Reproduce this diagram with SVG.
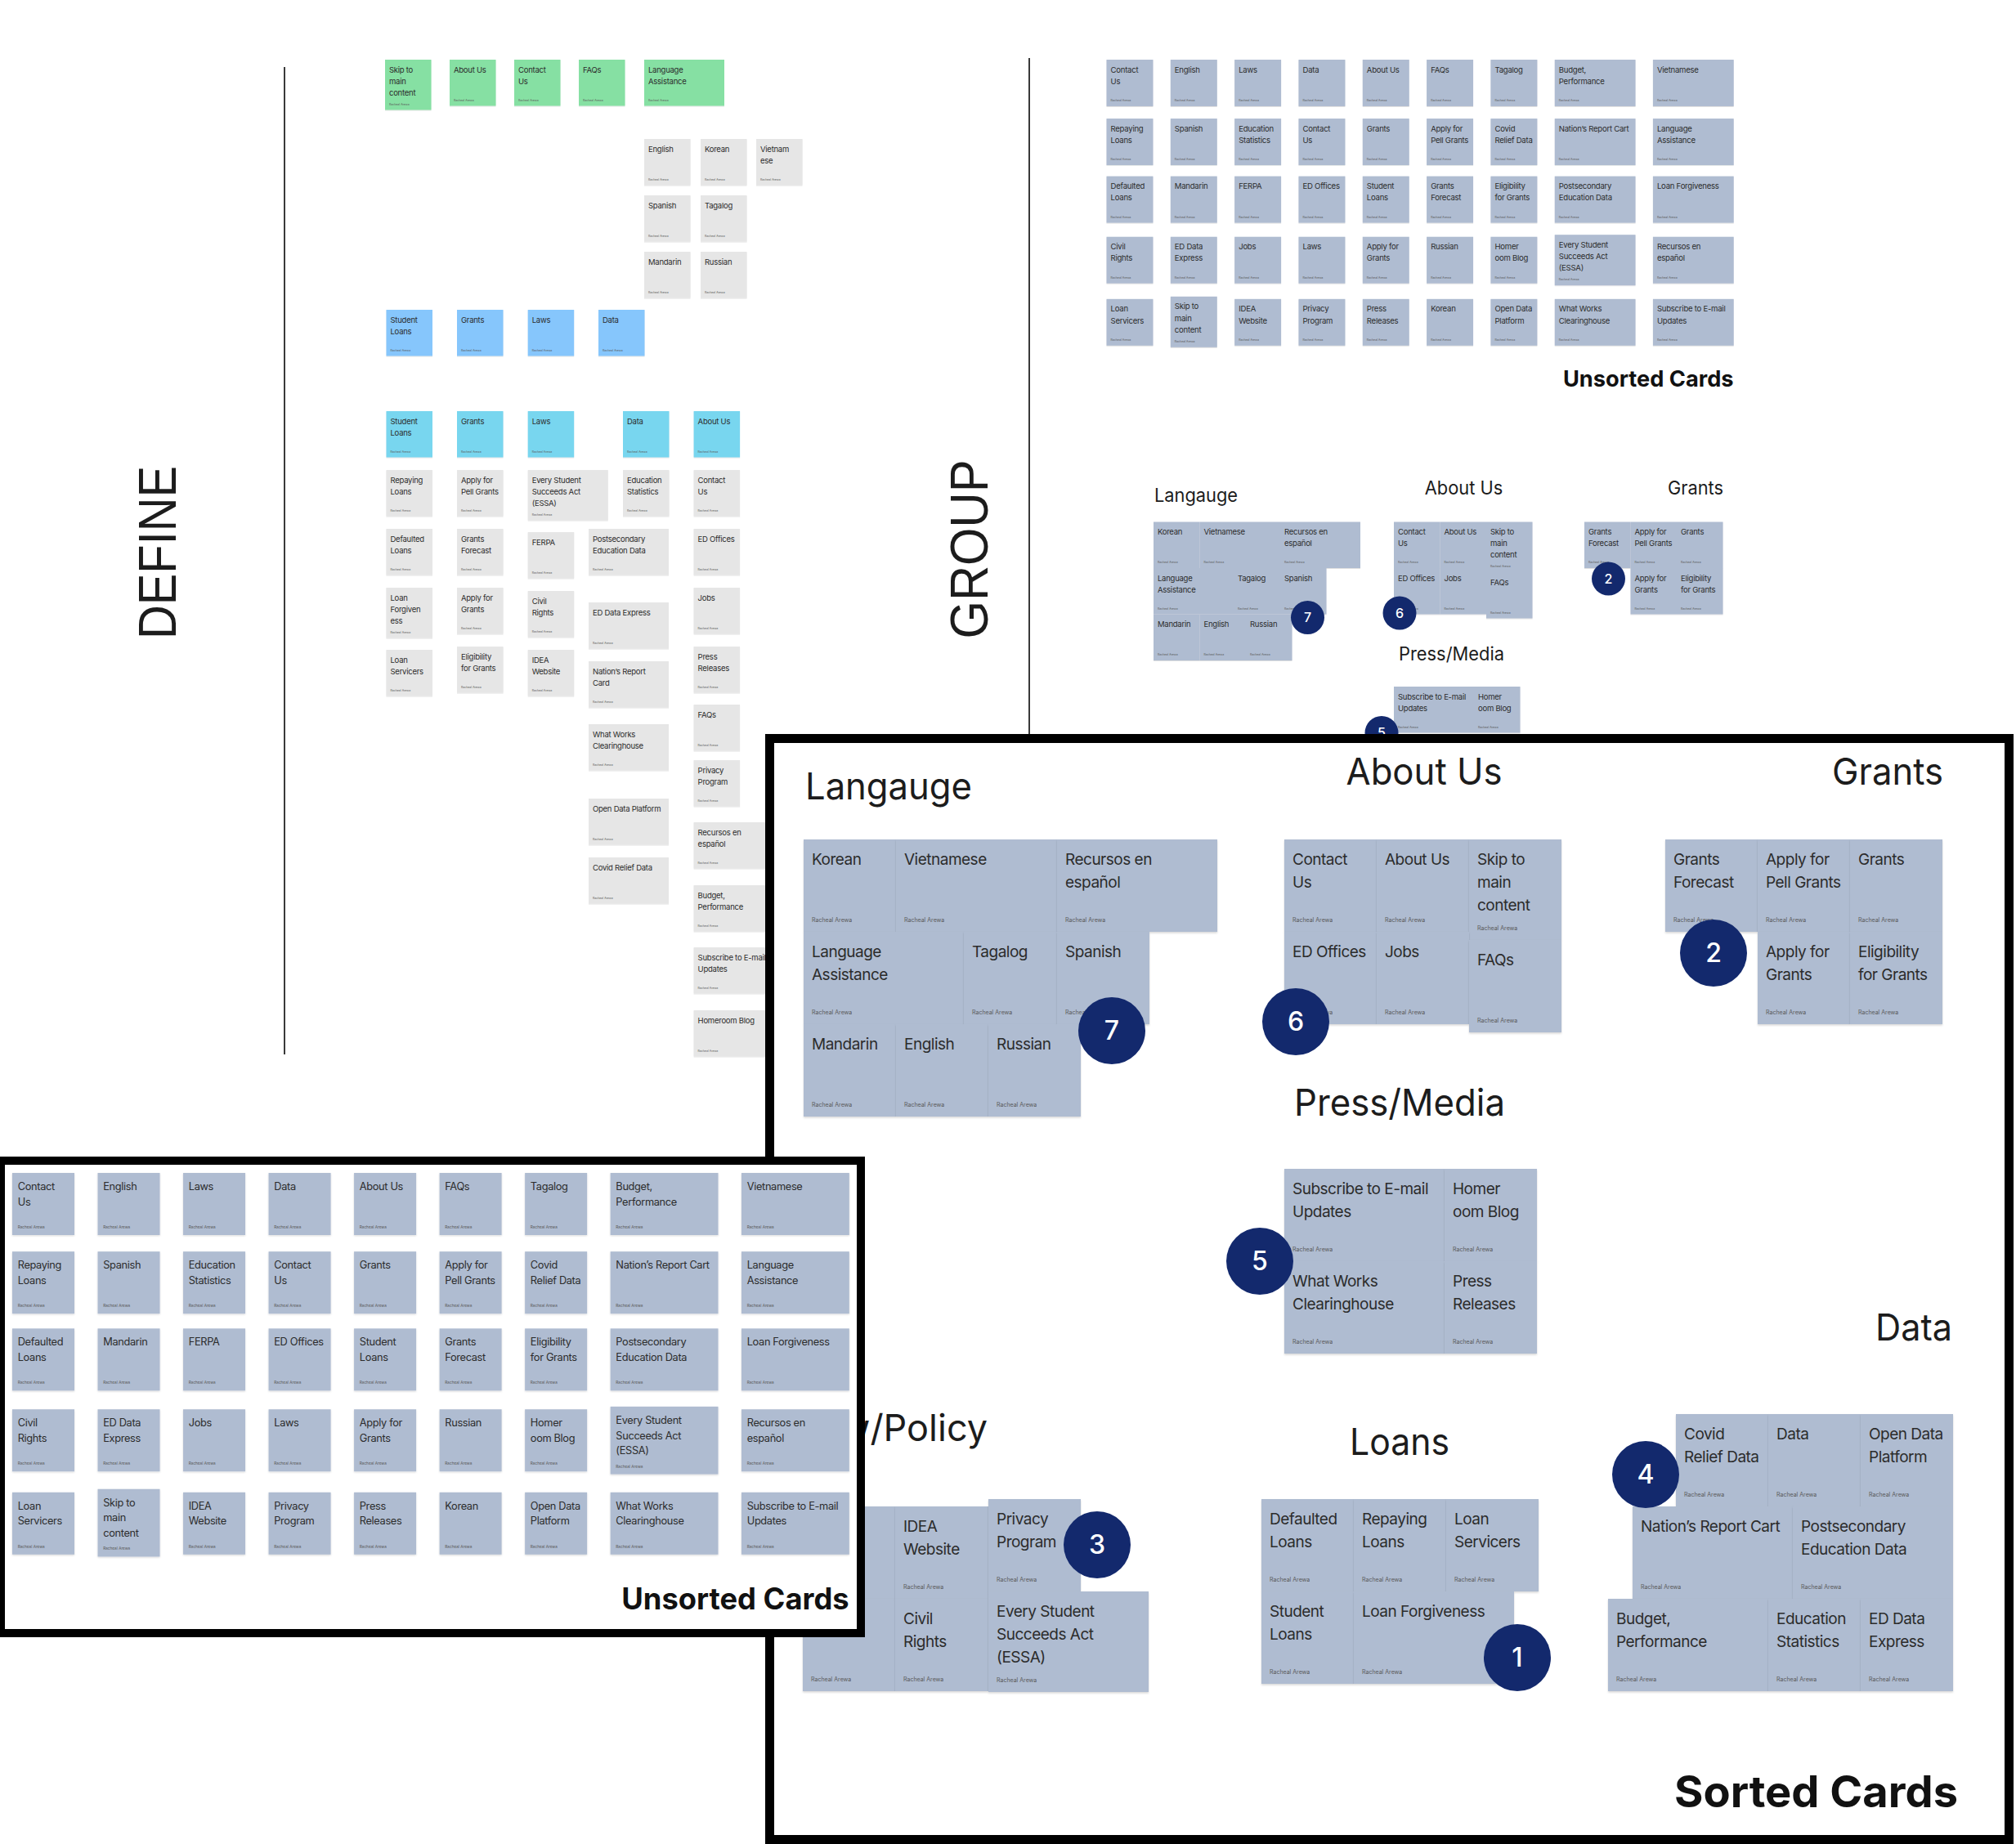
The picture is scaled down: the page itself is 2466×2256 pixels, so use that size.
<svg xmlns="http://www.w3.org/2000/svg" width="2466" height="2256" viewBox="0 0 2466 2256">
<defs>
<filter id="sh" x="-5%" y="-5%" width="110%" height="115%"><feDropShadow dx="0" dy="1.5" stdDeviation="1.2" flood-color="#000" flood-opacity="0.16"/></filter>
<style>
text{font-family:Inter,"Liberation Sans",Arial,sans-serif}
.cd rect{filter:url(#sh)}
.cd text{font-size:19px;letter-spacing:-0.5px;fill:#2c2c2c}
.cd text.au{font-size:7px;letter-spacing:0;fill:#5a5a5a}
.k rect{fill:#afbcd1}
.g rect{fill:#e6e6e6}
.gr rect{fill:#86e0a3}
.bl rect{fill:#86c6fc}
.cy rect{fill:#78d6ef}
.tt{font-size:45px;fill:#1c1c1c}
.big{font-size:54px;font-weight:700;fill:#111}
.vt{font-family:"Liberation Sans",Arial,sans-serif;font-size:64px;fill:#1c1c1c}
.bd circle{fill:#13296d}
.bd text{font-size:32px;font-weight:500;fill:#fff;text-anchor:middle}
.div{stroke:#3a3a3a;stroke-width:2}
.frame{fill:#fff;stroke:#000;stroke-width:11}
</style>
</defs>
<rect width="2466" height="2256" fill="#fff"/>

<!-- section dividers -->
<g id="connectors">
<line class="div" x1="348" y1="82" x2="348" y2="1290"/>
<line class="div" x1="1259" y1="71" x2="1259" y2="900"/>
</g>

<!-- DEFINE column -->
<g id="define-label"><text class="vt" transform="translate(215,676) rotate(-90)" text-anchor="middle" textLength="212" lengthAdjust="spacingAndGlyphs">DEFINE</text></g>
<g id="define">
<g id="d-skip" class="cd gr" transform="translate(471,73) scale(.5)"><rect width="113" height="123"/><text x="10" y="31">Skip to<tspan x="10" dy="28">main</tspan><tspan x="10" dy="28">content</tspan></text><text class="au" x="10" y="111">Racheal Arewa</text></g>
<g id="d-about" class="cd gr" transform="translate(550,73) scale(.5)"><rect width="113" height="113"/><text x="10" y="31">About Us</text><text class="au" x="10" y="101">Racheal Arewa</text></g>
<g id="d-contact" class="cd gr" transform="translate(629,73) scale(.5)"><rect width="113" height="113"/><text x="10" y="31">Contact<tspan x="10" dy="28">Us</tspan></text><text class="au" x="10" y="101">Racheal Arewa</text></g>
<g id="d-faqs" class="cd gr" transform="translate(708,73) scale(.5)"><rect width="113" height="113"/><text x="10" y="31">FAQs</text><text class="au" x="10" y="101">Racheal Arewa</text></g>
<g id="d-langassist" class="cd gr" transform="translate(788,73) scale(.5)"><rect width="196" height="113"/><text x="10" y="31">Language<tspan x="10" dy="28">Assistance</tspan></text><text class="au" x="10" y="101">Racheal Arewa</text></g>
<g id="d-english" class="cd g" transform="translate(788,170) scale(.5)"><rect width="113" height="113"/><text x="10" y="31">English</text><text class="au" x="10" y="101">Racheal Arewa</text></g>
<g id="d-korean" class="cd g" transform="translate(857,170) scale(.5)"><rect width="113" height="113"/><text x="10" y="31">Korean</text><text class="au" x="10" y="101">Racheal Arewa</text></g>
<g id="d-vietnamese" class="cd g" transform="translate(925,170) scale(.5)"><rect width="113" height="113"/><text x="10" y="31">Vietnam<tspan x="10" dy="28">ese</tspan></text><text class="au" x="10" y="101">Racheal Arewa</text></g>
<g id="d-spanish" class="cd g" transform="translate(788,239) scale(.5)"><rect width="113" height="113"/><text x="10" y="31">Spanish</text><text class="au" x="10" y="101">Racheal Arewa</text></g>
<g id="d-tagalog" class="cd g" transform="translate(857,239) scale(.5)"><rect width="113" height="113"/><text x="10" y="31">Tagalog</text><text class="au" x="10" y="101">Racheal Arewa</text></g>
<g id="d-mandarin" class="cd g" transform="translate(788,308) scale(.5)"><rect width="113" height="113"/><text x="10" y="31">Mandarin</text><text class="au" x="10" y="101">Racheal Arewa</text></g>
<g id="d-russian" class="cd g" transform="translate(857,308) scale(.5)"><rect width="113" height="113"/><text x="10" y="31">Russian</text><text class="au" x="10" y="101">Racheal Arewa</text></g>

<g id="d-bl-loans" class="cd bl" transform="translate(472.5,379) scale(.5)"><rect width="113" height="113"/><text x="10" y="31">Student<tspan x="10" dy="28">Loans</tspan></text><text class="au" x="10" y="101">Racheal Arewa</text></g>
<g id="d-bl-grants" class="cd bl" transform="translate(559,379) scale(.5)"><rect width="113" height="113"/><text x="10" y="31">Grants</text><text class="au" x="10" y="101">Racheal Arewa</text></g>
<g id="d-bl-laws" class="cd bl" transform="translate(645.7,379) scale(.5)"><rect width="113" height="113"/><text x="10" y="31">Laws</text><text class="au" x="10" y="101">Racheal Arewa</text></g>
<g id="d-bl-data" class="cd bl" transform="translate(732,379) scale(.5)"><rect width="113" height="113"/><text x="10" y="31">Data</text><text class="au" x="10" y="101">Racheal Arewa</text></g>

<g id="d-cy-loans" class="cd cy" transform="translate(472.5,503) scale(.5)"><rect width="113" height="113"/><text x="10" y="31">Student<tspan x="10" dy="28">Loans</tspan></text><text class="au" x="10" y="101">Racheal Arewa</text></g>
<g id="d-cy-grants" class="cd cy" transform="translate(559,503) scale(.5)"><rect width="113" height="113"/><text x="10" y="31">Grants</text><text class="au" x="10" y="101">Racheal Arewa</text></g>
<g id="d-cy-laws" class="cd cy" transform="translate(645.7,503) scale(.5)"><rect width="113" height="113"/><text x="10" y="31">Laws</text><text class="au" x="10" y="101">Racheal Arewa</text></g>
<g id="d-cy-data" class="cd cy" transform="translate(762,503) scale(.5)"><rect width="113" height="113"/><text x="10" y="31">Data</text><text class="au" x="10" y="101">Racheal Arewa</text></g>
<g id="d-cy-about" class="cd cy" transform="translate(848.6,503) scale(.5)"><rect width="113" height="113"/><text x="10" y="31">About Us</text><text class="au" x="10" y="101">Racheal Arewa</text></g>

<g id="d-repaying" class="cd g" transform="translate(472.5,575) scale(.5)"><rect width="113" height="113"/><text x="10" y="31">Repaying<tspan x="10" dy="28">Loans</tspan></text><text class="au" x="10" y="101">Racheal Arewa</text></g>
<g id="d-defaulted" class="cd g" transform="translate(472.5,647) scale(.5)"><rect width="113" height="113"/><text x="10" y="31">Defaulted<tspan x="10" dy="28">Loans</tspan></text><text class="au" x="10" y="101">Racheal Arewa</text></g>
<g id="d-forgiveness" class="cd g" transform="translate(472.5,719) scale(.5)"><rect width="113" height="123"/><text x="10" y="31">Loan<tspan x="10" dy="28">Forgiven</tspan><tspan x="10" dy="28">ess</tspan></text><text class="au" x="10" y="111">Racheal Arewa</text></g>
<g id="d-servicers" class="cd g" transform="translate(472.5,795) scale(.5)"><rect width="113" height="113"/><text x="10" y="31">Loan<tspan x="10" dy="28">Servicers</tspan></text><text class="au" x="10" y="101">Racheal Arewa</text></g>
<g id="d-pell" class="cd g" transform="translate(559,575) scale(.5)"><rect width="113" height="113"/><text x="10" y="31">Apply for<tspan x="10" dy="28">Pell Grants</tspan></text><text class="au" x="10" y="101">Racheal Arewa</text></g>
<g id="d-forecast" class="cd g" transform="translate(559,647) scale(.5)"><rect width="113" height="113"/><text x="10" y="31">Grants<tspan x="10" dy="28">Forecast</tspan></text><text class="au" x="10" y="101">Racheal Arewa</text></g>
<g id="d-applygrants" class="cd g" transform="translate(559,719) scale(.5)"><rect width="113" height="113"/><text x="10" y="31">Apply for<tspan x="10" dy="28">Grants</tspan></text><text class="au" x="10" y="101">Racheal Arewa</text></g>
<g id="d-eligibility" class="cd g" transform="translate(559,791) scale(.5)"><rect width="113" height="113"/><text x="10" y="31">Eligibility<tspan x="10" dy="28">for Grants</tspan></text><text class="au" x="10" y="101">Racheal Arewa</text></g>
<g id="d-essa" class="cd g" transform="translate(645.7,575) scale(.5)"><rect width="196" height="123"/><text x="10" y="31">Every Student<tspan x="10" dy="28">Succeeds Act</tspan><tspan x="10" dy="28">(ESSA)</tspan></text><text class="au" x="10" y="111">Racheal Arewa</text></g>
<g id="d-ferpa" class="cd g" transform="translate(645.7,651) scale(.5)"><rect width="113" height="113"/><text x="10" y="31">FERPA</text><text class="au" x="10" y="101">Racheal Arewa</text></g>
<g id="d-civil" class="cd g" transform="translate(645.7,723) scale(.5)"><rect width="113" height="113"/><text x="10" y="31">Civil<tspan x="10" dy="28">Rights</tspan></text><text class="au" x="10" y="101">Racheal Arewa</text></g>
<g id="d-idea" class="cd g" transform="translate(645.7,795) scale(.5)"><rect width="113" height="113"/><text x="10" y="31">IDEA<tspan x="10" dy="28">Website</tspan></text><text class="au" x="10" y="101">Racheal Arewa</text></g>
<g id="d-edstats" class="cd g" transform="translate(762,575) scale(.5)"><rect width="113" height="113"/><text x="10" y="31">Education<tspan x="10" dy="28">Statistics</tspan></text><text class="au" x="10" y="101">Racheal Arewa</text></g>
<g id="d-postsec" class="cd g" transform="translate(720,647) scale(.5)"><rect width="196" height="113"/><text x="10" y="31">Postsecondary<tspan x="10" dy="28">Education Data</tspan></text><text class="au" x="10" y="101">Racheal Arewa</text></g>
<g id="d-eddata" class="cd g" transform="translate(720,737) scale(.5)"><rect width="196" height="113"/><text x="10" y="31">ED Data Express</text><text class="au" x="10" y="101">Racheal Arewa</text></g>
<g id="d-nations" class="cd g" transform="translate(720,809) scale(.5)"><rect width="196" height="113"/><text x="10" y="31">Nation’s Report<tspan x="10" dy="28">Card</tspan></text><text class="au" x="10" y="101">Racheal Arewa</text></g>
<g id="d-whatworks" class="cd g" transform="translate(720,886) scale(.5)"><rect width="196" height="113"/><text x="10" y="31">What Works<tspan x="10" dy="28">Clearinghouse</tspan></text><text class="au" x="10" y="101">Racheal Arewa</text></g>
<g id="d-opendata" class="cd g" transform="translate(720,977) scale(.5)"><rect width="196" height="113"/><text x="10" y="31">Open Data Platform</text><text class="au" x="10" y="101">Racheal Arewa</text></g>
<g id="d-covid" class="cd g" transform="translate(720,1049) scale(.5)"><rect width="196" height="113"/><text x="10" y="31">Covid Relief Data</text><text class="au" x="10" y="101">Racheal Arewa</text></g>
<g id="d-contact2" class="cd g" transform="translate(848.6,575) scale(.5)"><rect width="113" height="113"/><text x="10" y="31">Contact<tspan x="10" dy="28">Us</tspan></text><text class="au" x="10" y="101">Racheal Arewa</text></g>
<g id="d-edoffices" class="cd g" transform="translate(848.6,647) scale(.5)"><rect width="113" height="113"/><text x="10" y="31">ED Offices</text><text class="au" x="10" y="101">Racheal Arewa</text></g>
<g id="d-jobs" class="cd g" transform="translate(848.6,719) scale(.5)"><rect width="113" height="113"/><text x="10" y="31">Jobs</text><text class="au" x="10" y="101">Racheal Arewa</text></g>
<g id="d-press" class="cd g" transform="translate(848.6,791) scale(.5)"><rect width="113" height="113"/><text x="10" y="31">Press<tspan x="10" dy="28">Releases</tspan></text><text class="au" x="10" y="101">Racheal Arewa</text></g>
<g id="d-faqs2" class="cd g" transform="translate(848.6,862) scale(.5)"><rect width="113" height="113"/><text x="10" y="31">FAQs</text><text class="au" x="10" y="101">Racheal Arewa</text></g>
<g id="d-privacy" class="cd g" transform="translate(848.6,930) scale(.5)"><rect width="113" height="113"/><text x="10" y="31">Privacy<tspan x="10" dy="28">Program</tspan></text><text class="au" x="10" y="101">Racheal Arewa</text></g>
<g id="d-recursos" class="cd g" transform="translate(848.6,1006) scale(.5)"><rect width="196" height="113"/><text x="10" y="31">Recursos en<tspan x="10" dy="28">español</tspan></text><text class="au" x="10" y="101">Racheal Arewa</text></g>
<g id="d-budget" class="cd g" transform="translate(848.6,1083) scale(.5)"><rect width="196" height="113"/><text x="10" y="31">Budget,<tspan x="10" dy="28">Performance</tspan></text><text class="au" x="10" y="101">Racheal Arewa</text></g>
<g id="d-subscribe" class="cd g" transform="translate(848.6,1159) scale(.5)"><rect width="196" height="113"/><text x="10" y="31">Subscribe to E-mail<tspan x="10" dy="28">Updates</tspan></text><text class="au" x="10" y="101">Racheal Arewa</text></g>
<g id="d-homeroom" class="cd g" transform="translate(848.6,1236) scale(.5)"><rect width="196" height="113"/><text x="10" y="31">Homeroom Blog</text><text class="au" x="10" y="101">Racheal Arewa</text></g>
</g>

<!-- GROUP column -->
<g id="group-label"><text class="vt" transform="translate(1208,672) rotate(-90)" text-anchor="middle" textLength="219" lengthAdjust="spacingAndGlyphs">GROUP</text></g>

<g id="group-unsorted" transform="translate(1353.5,73) scale(.504)">
<g id="ut-contact" class="cd k" transform="translate(0,0)"><rect width="113" height="113"/><text x="10" y="31">Contact<tspan x="10" dy="28">Us</tspan></text><text class="au" x="10" y="101">Racheal Arewa</text></g>
<g id="ut-english" class="cd k" transform="translate(155.4,0)"><rect width="113" height="113"/><text x="10" y="31">English</text><text class="au" x="10" y="101">Racheal Arewa</text></g>
<g id="ut-laws" class="cd k" transform="translate(310.8,0)"><rect width="113" height="113"/><text x="10" y="31">Laws</text><text class="au" x="10" y="101">Racheal Arewa</text></g>
<g id="ut-data" class="cd k" transform="translate(466.2,0)"><rect width="113" height="113"/><text x="10" y="31">Data</text><text class="au" x="10" y="101">Racheal Arewa</text></g>
<g id="ut-about" class="cd k" transform="translate(621.6,0)"><rect width="113" height="113"/><text x="10" y="31">About Us</text><text class="au" x="10" y="101">Racheal Arewa</text></g>
<g id="ut-faqs" class="cd k" transform="translate(777,0)"><rect width="113" height="113"/><text x="10" y="31">FAQs</text><text class="au" x="10" y="101">Racheal Arewa</text></g>
<g id="ut-tagalog" class="cd k" transform="translate(932.4,0)"><rect width="113" height="113"/><text x="10" y="31">Tagalog</text><text class="au" x="10" y="101">Racheal Arewa</text></g>
<g id="ut-budget" class="cd k" transform="translate(1087.8,0)"><rect width="196" height="113"/><text x="10" y="31">Budget,<tspan x="10" dy="28">Performance</tspan></text><text class="au" x="10" y="101">Racheal Arewa</text></g>
<g id="ut-vietnamese" class="cd k" transform="translate(1326.2,0)"><rect width="196" height="113"/><text x="10" y="31">Vietnamese</text><text class="au" x="10" y="101">Racheal Arewa</text></g>

<g id="ut-repaying" class="cd k" transform="translate(0,143)"><rect width="113" height="113"/><text x="10" y="31">Repaying<tspan x="10" dy="28">Loans</tspan></text><text class="au" x="10" y="101">Racheal Arewa</text></g>
<g id="ut-spanish" class="cd k" transform="translate(155.4,143)"><rect width="113" height="113"/><text x="10" y="31">Spanish</text><text class="au" x="10" y="101">Racheal Arewa</text></g>
<g id="ut-edstats" class="cd k" transform="translate(310.8,143)"><rect width="113" height="113"/><text x="10" y="31">Education<tspan x="10" dy="28">Statistics</tspan></text><text class="au" x="10" y="101">Racheal Arewa</text></g>
<g id="ut-contact2" class="cd k" transform="translate(466.2,143)"><rect width="113" height="113"/><text x="10" y="31">Contact<tspan x="10" dy="28">Us</tspan></text><text class="au" x="10" y="101">Racheal Arewa</text></g>
<g id="ut-grants" class="cd k" transform="translate(621.6,143)"><rect width="113" height="113"/><text x="10" y="31">Grants</text><text class="au" x="10" y="101">Racheal Arewa</text></g>
<g id="ut-pell" class="cd k" transform="translate(777,143)"><rect width="113" height="113"/><text x="10" y="31">Apply for<tspan x="10" dy="28">Pell Grants</tspan></text><text class="au" x="10" y="101">Racheal Arewa</text></g>
<g id="ut-covid" class="cd k" transform="translate(932.4,143)"><rect width="113" height="113"/><text x="10" y="31">Covid<tspan x="10" dy="28">Relief Data</tspan></text><text class="au" x="10" y="101">Racheal Arewa</text></g>
<g id="ut-nations" class="cd k" transform="translate(1087.8,143)"><rect width="196" height="113"/><text x="10" y="31">Nation’s Report Cart</text><text class="au" x="10" y="101">Racheal Arewa</text></g>
<g id="ut-langassist" class="cd k" transform="translate(1326.2,143)"><rect width="196" height="113"/><text x="10" y="31">Language<tspan x="10" dy="28">Assistance</tspan></text><text class="au" x="10" y="101">Racheal Arewa</text></g>

<g id="ut-defaulted" class="cd k" transform="translate(0,283)"><rect width="113" height="113"/><text x="10" y="31">Defaulted<tspan x="10" dy="28">Loans</tspan></text><text class="au" x="10" y="101">Racheal Arewa</text></g>
<g id="ut-mandarin" class="cd k" transform="translate(155.4,283)"><rect width="113" height="113"/><text x="10" y="31">Mandarin</text><text class="au" x="10" y="101">Racheal Arewa</text></g>
<g id="ut-ferpa" class="cd k" transform="translate(310.8,283)"><rect width="113" height="113"/><text x="10" y="31">FERPA</text><text class="au" x="10" y="101">Racheal Arewa</text></g>
<g id="ut-edoffices" class="cd k" transform="translate(466.2,283)"><rect width="113" height="113"/><text x="10" y="31">ED Offices</text><text class="au" x="10" y="101">Racheal Arewa</text></g>
<g id="ut-studentloans" class="cd k" transform="translate(621.6,283)"><rect width="113" height="113"/><text x="10" y="31">Student<tspan x="10" dy="28">Loans</tspan></text><text class="au" x="10" y="101">Racheal Arewa</text></g>
<g id="ut-forecast" class="cd k" transform="translate(777,283)"><rect width="113" height="113"/><text x="10" y="31">Grants<tspan x="10" dy="28">Forecast</tspan></text><text class="au" x="10" y="101">Racheal Arewa</text></g>
<g id="ut-eligibility" class="cd k" transform="translate(932.4,283)"><rect width="113" height="113"/><text x="10" y="31">Eligibility<tspan x="10" dy="28">for Grants</tspan></text><text class="au" x="10" y="101">Racheal Arewa</text></g>
<g id="ut-postsec" class="cd k" transform="translate(1087.8,283)"><rect width="196" height="113"/><text x="10" y="31">Postsecondary<tspan x="10" dy="28">Education Data</tspan></text><text class="au" x="10" y="101">Racheal Arewa</text></g>
<g id="ut-forgiveness" class="cd k" transform="translate(1326.2,283)"><rect width="196" height="113"/><text x="10" y="31">Loan Forgiveness</text><text class="au" x="10" y="101">Racheal Arewa</text></g>

<g id="ut-civil" class="cd k" transform="translate(0,430)"><rect width="113" height="113"/><text x="10" y="31">Civil<tspan x="10" dy="28">Rights</tspan></text><text class="au" x="10" y="101">Racheal Arewa</text></g>
<g id="ut-eddata" class="cd k" transform="translate(155.4,430)"><rect width="113" height="113"/><text x="10" y="31">ED Data<tspan x="10" dy="28">Express</tspan></text><text class="au" x="10" y="101">Racheal Arewa</text></g>
<g id="ut-jobs" class="cd k" transform="translate(310.8,430)"><rect width="113" height="113"/><text x="10" y="31">Jobs</text><text class="au" x="10" y="101">Racheal Arewa</text></g>
<g id="ut-laws2" class="cd k" transform="translate(466.2,430)"><rect width="113" height="113"/><text x="10" y="31">Laws</text><text class="au" x="10" y="101">Racheal Arewa</text></g>
<g id="ut-applygrants" class="cd k" transform="translate(621.6,430)"><rect width="113" height="113"/><text x="10" y="31">Apply for<tspan x="10" dy="28">Grants</tspan></text><text class="au" x="10" y="101">Racheal Arewa</text></g>
<g id="ut-russian" class="cd k" transform="translate(777,430)"><rect width="113" height="113"/><text x="10" y="31">Russian</text><text class="au" x="10" y="101">Racheal Arewa</text></g>
<g id="ut-homeroom" class="cd k" transform="translate(932.4,430)"><rect width="113" height="113"/><text x="10" y="31">Homer<tspan x="10" dy="28">oom Blog</tspan></text><text class="au" x="10" y="101">Racheal Arewa</text></g>
<g id="ut-essa" class="cd k" transform="translate(1087.8,425)"><rect width="196" height="123"/><text x="10" y="31">Every Student<tspan x="10" dy="28">Succeeds Act</tspan><tspan x="10" dy="28">(ESSA)</tspan></text><text class="au" x="10" y="111">Racheal Arewa</text></g>
<g id="ut-recursos" class="cd k" transform="translate(1326.2,430)"><rect width="196" height="113"/><text x="10" y="31">Recursos en<tspan x="10" dy="28">español</tspan></text><text class="au" x="10" y="101">Racheal Arewa</text></g>

<g id="ut-servicers" class="cd k" transform="translate(0,581)"><rect width="113" height="113"/><text x="10" y="31">Loan<tspan x="10" dy="28">Servicers</tspan></text><text class="au" x="10" y="101">Racheal Arewa</text></g>
<g id="ut-skip" class="cd k" transform="translate(155.4,575)"><rect width="113" height="123"/><text x="10" y="31">Skip to<tspan x="10" dy="28">main</tspan><tspan x="10" dy="28">content</tspan></text><text class="au" x="10" y="111">Racheal Arewa</text></g>
<g id="ut-idea" class="cd k" transform="translate(310.8,581)"><rect width="113" height="113"/><text x="10" y="31">IDEA<tspan x="10" dy="28">Website</tspan></text><text class="au" x="10" y="101">Racheal Arewa</text></g>
<g id="ut-privacy" class="cd k" transform="translate(466.2,581)"><rect width="113" height="113"/><text x="10" y="31">Privacy<tspan x="10" dy="28">Program</tspan></text><text class="au" x="10" y="101">Racheal Arewa</text></g>
<g id="ut-press" class="cd k" transform="translate(621.6,581)"><rect width="113" height="113"/><text x="10" y="31">Press<tspan x="10" dy="28">Releases</tspan></text><text class="au" x="10" y="101">Racheal Arewa</text></g>
<g id="ut-korean" class="cd k" transform="translate(777,581)"><rect width="113" height="113"/><text x="10" y="31">Korean</text><text class="au" x="10" y="101">Racheal Arewa</text></g>
<g id="ut-opendata" class="cd k" transform="translate(932.4,581)"><rect width="113" height="113"/><text x="10" y="31">Open Data<tspan x="10" dy="28">Platform</tspan></text><text class="au" x="10" y="101">Racheal Arewa</text></g>
<g id="ut-whatworks" class="cd k" transform="translate(1087.8,581)"><rect width="196" height="113"/><text x="10" y="31">What Works<tspan x="10" dy="28">Clearinghouse</tspan></text><text class="au" x="10" y="101">Racheal Arewa</text></g>
<g id="ut-subscribe" class="cd k" transform="translate(1326.2,581)"><rect width="196" height="113"/><text x="10" y="31">Subscribe to E-mail<tspan x="10" dy="28">Updates</tspan></text><text class="au" x="10" y="101">Racheal Arewa</text></g>
<g id="ut-title"><text class="big" x="1522" y="794" text-anchor="end" textLength="414" lengthAdjust="spacingAndGlyphs">Unsorted Cards</text></g>
</g>

<!-- reduced preview of the sorted groups (lower part hidden by the Sorted Cards panel) -->
<g id="group-sorted" transform="translate(919.5,125) scale(.5)">
<text class="tt" x="985" y="978" textLength="204" lengthAdjust="spacingAndGlyphs">Langauge</text>
<text class="tt" x="1742" y="960" text-anchor="middle" textLength="191" lengthAdjust="spacingAndGlyphs">About Us</text>
<text class="tt" x="2377" y="960" text-anchor="end" textLength="136" lengthAdjust="spacingAndGlyphs">Grants</text>
<text class="tt" x="1712" y="1365" text-anchor="middle" textLength="258" lengthAdjust="spacingAndGlyphs">Press/Media</text>
<g id="gc-korean" class="cd k" transform="translate(983,1027)"><rect width="113" height="113"/><text x="10" y="31">Korean</text><text class="au" x="10" y="101">Racheal Arewa</text></g>
<g id="gc-vietnamese" class="cd k" transform="translate(1096,1027)"><rect width="197" height="113"/><text x="10" y="31">Vietnamese</text><text class="au" x="10" y="101">Racheal Arewa</text></g>
<g id="gc-recursos" class="cd k" transform="translate(1293,1027)"><rect width="196" height="113"/><text x="10" y="31">Recursos en<tspan x="10" dy="28">español</tspan></text><text class="au" x="10" y="101">Racheal Arewa</text></g>
<g id="gc-langassist" class="cd k" transform="translate(983,1140)"><rect width="196" height="113"/><text x="10" y="31">Language<tspan x="10" dy="28">Assistance</tspan></text><text class="au" x="10" y="101">Racheal Arewa</text></g>
<g id="gc-tagalog" class="cd k" transform="translate(1179,1140)"><rect width="114" height="113"/><text x="10" y="31">Tagalog</text><text class="au" x="10" y="101">Racheal Arewa</text></g>
<g id="gc-spanish" class="cd k" transform="translate(1293,1140)"><rect width="113" height="113"/><text x="10" y="31">Spanish</text><text class="au" x="10" y="101">Racheal Arewa</text></g>
<g id="gc-mandarin" class="cd k" transform="translate(983,1253)"><rect width="113" height="113"/><text x="10" y="31">Mandarin</text><text class="au" x="10" y="101">Racheal Arewa</text></g>
<g id="gc-english" class="cd k" transform="translate(1096,1253)"><rect width="113" height="113"/><text x="10" y="31">English</text><text class="au" x="10" y="101">Racheal Arewa</text></g>
<g id="gc-russian" class="cd k" transform="translate(1209,1253)"><rect width="113" height="113"/><text x="10" y="31">Russian</text><text class="au" x="10" y="101">Racheal Arewa</text></g>
<g id="gc-contact" class="cd k" transform="translate(1571,1027)"><rect width="113" height="113"/><text x="10" y="31">Contact<tspan x="10" dy="28">Us</tspan></text><text class="au" x="10" y="101">Racheal Arewa</text></g>
<g id="gc-about" class="cd k" transform="translate(1684,1027)"><rect width="113" height="113"/><text x="10" y="31">About Us</text><text class="au" x="10" y="101">Racheal Arewa</text></g>
<g id="gc-skip" class="cd k" transform="translate(1797,1027)"><rect width="113" height="123"/><text x="10" y="31">Skip to<tspan x="10" dy="28">main</tspan><tspan x="10" dy="28">content</tspan></text><text class="au" x="10" y="111">Racheal Arewa</text></g>
<g id="gc-edoffices" class="cd k" transform="translate(1571,1140)"><rect width="113" height="113"/><text x="10" y="31">ED Offices</text><text class="au" x="10" y="101">Racheal Arewa</text></g>
<g id="gc-jobs" class="cd k" transform="translate(1684,1140)"><rect width="113" height="113"/><text x="10" y="31">Jobs</text><text class="au" x="10" y="101">Racheal Arewa</text></g>
<g id="gc-faqs" class="cd k" transform="translate(1797,1150)"><rect width="113" height="113"/><text x="10" y="31">FAQs</text><text class="au" x="10" y="101">Racheal Arewa</text></g>
<g id="gc-forecast" class="cd k" transform="translate(2037,1027)"><rect width="113" height="113"/><text x="10" y="31">Grants<tspan x="10" dy="28">Forecast</tspan></text><text class="au" x="10" y="101">Racheal Arewa</text></g>
<g id="gc-pell" class="cd k" transform="translate(2150,1027)"><rect width="113" height="113"/><text x="10" y="31">Apply for<tspan x="10" dy="28">Pell Grants</tspan></text><text class="au" x="10" y="101">Racheal Arewa</text></g>
<g id="gc-grants" class="cd k" transform="translate(2263,1027)"><rect width="113" height="113"/><text x="10" y="31">Grants</text><text class="au" x="10" y="101">Racheal Arewa</text></g>
<g id="gc-applygrants" class="cd k" transform="translate(2150,1140)"><rect width="113" height="113"/><text x="10" y="31">Apply for<tspan x="10" dy="28">Grants</tspan></text><text class="au" x="10" y="101">Racheal Arewa</text></g>
<g id="gc-eligibility" class="cd k" transform="translate(2263,1140)"><rect width="113" height="113"/><text x="10" y="31">Eligibility<tspan x="10" dy="28">for Grants</tspan></text><text class="au" x="10" y="101">Racheal Arewa</text></g>
<g id="gc-subscribe" class="cd k" transform="translate(1571,1430)"><rect width="196" height="113"/><text x="10" y="31">Subscribe to E-mail<tspan x="10" dy="28">Updates</tspan></text><text class="au" x="10" y="101">Racheal Arewa</text></g>
<g id="gc-homeroom" class="cd k" transform="translate(1767,1430)"><rect width="113" height="113"/><text x="10" y="31">Homer<tspan x="10" dy="28">oom Blog</tspan></text><text class="au" x="10" y="101">Racheal Arewa</text></g>
<g id="gc-b7" class="bd"><circle cx="1360" cy="1261" r="41"/><text x="1360" y="1272">7</text></g>
<g id="gc-b6" class="bd"><circle cx="1585" cy="1250" r="41"/><text x="1585" y="1261">6</text></g>
<g id="gc-b2" class="bd"><circle cx="2096" cy="1166" r="41"/><text x="2096" y="1177">2</text></g>
<g id="gc-b5" class="bd"><circle cx="1541" cy="1543" r="41"/><text x="1541" y="1554">5</text></g>
</g>

<!-- Sorted Cards panel -->
<g id="sorted">
<rect class="frame" x="941.5" y="903.5" width="1516" height="1347"/>
<g id="s-titles">
<text class="tt" x="985" y="978" textLength="204" lengthAdjust="spacingAndGlyphs">Langauge</text>
<text class="tt" x="1742" y="960" text-anchor="middle" textLength="191" lengthAdjust="spacingAndGlyphs">About Us</text>
<text class="tt" x="2377" y="960" text-anchor="end" textLength="136" lengthAdjust="spacingAndGlyphs">Grants</text>
<text class="tt" x="1712" y="1365" text-anchor="middle" textLength="258" lengthAdjust="spacingAndGlyphs">Press/Media</text>
<text class="tt" x="2388" y="1640" text-anchor="end" textLength="94" lengthAdjust="spacingAndGlyphs">Data</text>
<text class="tt" x="1208" y="1763" text-anchor="end">Law/Policy</text>
<text class="tt" x="1712" y="1780" text-anchor="middle" textLength="122" lengthAdjust="spacingAndGlyphs">Loans</text>
<text class="big" x="2395" y="2211" text-anchor="end" textLength="347" lengthAdjust="spacingAndGlyphs">Sorted Cards</text>
</g>
<g id="s-korean" class="cd k" transform="translate(983,1027)"><rect width="113" height="113"/><text x="10" y="31">Korean</text><text class="au" x="10" y="101">Racheal Arewa</text></g>
<g id="s-vietnamese" class="cd k" transform="translate(1096,1027)"><rect width="197" height="113"/><text x="10" y="31">Vietnamese</text><text class="au" x="10" y="101">Racheal Arewa</text></g>
<g id="s-recursos" class="cd k" transform="translate(1293,1027)"><rect width="196" height="113"/><text x="10" y="31">Recursos en<tspan x="10" dy="28">español</tspan></text><text class="au" x="10" y="101">Racheal Arewa</text></g>
<g id="s-langassist" class="cd k" transform="translate(983,1140)"><rect width="196" height="113"/><text x="10" y="31">Language<tspan x="10" dy="28">Assistance</tspan></text><text class="au" x="10" y="101">Racheal Arewa</text></g>
<g id="s-tagalog" class="cd k" transform="translate(1179,1140)"><rect width="114" height="113"/><text x="10" y="31">Tagalog</text><text class="au" x="10" y="101">Racheal Arewa</text></g>
<g id="s-spanish" class="cd k" transform="translate(1293,1140)"><rect width="113" height="113"/><text x="10" y="31">Spanish</text><text class="au" x="10" y="101">Racheal Arewa</text></g>
<g id="s-mandarin" class="cd k" transform="translate(983,1253)"><rect width="113" height="113"/><text x="10" y="31">Mandarin</text><text class="au" x="10" y="101">Racheal Arewa</text></g>
<g id="s-english" class="cd k" transform="translate(1096,1253)"><rect width="113" height="113"/><text x="10" y="31">English</text><text class="au" x="10" y="101">Racheal Arewa</text></g>
<g id="s-russian" class="cd k" transform="translate(1209,1253)"><rect width="113" height="113"/><text x="10" y="31">Russian</text><text class="au" x="10" y="101">Racheal Arewa</text></g>

<g id="s-contact" class="cd k" transform="translate(1571,1027)"><rect width="113" height="113"/><text x="10" y="31">Contact<tspan x="10" dy="28">Us</tspan></text><text class="au" x="10" y="101">Racheal Arewa</text></g>
<g id="s-about" class="cd k" transform="translate(1684,1027)"><rect width="113" height="113"/><text x="10" y="31">About Us</text><text class="au" x="10" y="101">Racheal Arewa</text></g>
<g id="s-skip" class="cd k" transform="translate(1797,1027)"><rect width="113" height="123"/><text x="10" y="31">Skip to<tspan x="10" dy="28">main</tspan><tspan x="10" dy="28">content</tspan></text><text class="au" x="10" y="111">Racheal Arewa</text></g>
<g id="s-edoffices" class="cd k" transform="translate(1571,1140)"><rect width="113" height="113"/><text x="10" y="31">ED Offices</text><text class="au" x="10" y="101">Racheal Arewa</text></g>
<g id="s-jobs" class="cd k" transform="translate(1684,1140)"><rect width="113" height="113"/><text x="10" y="31">Jobs</text><text class="au" x="10" y="101">Racheal Arewa</text></g>
<g id="s-faqs" class="cd k" transform="translate(1797,1150)"><rect width="113" height="113"/><text x="10" y="31">FAQs</text><text class="au" x="10" y="101">Racheal Arewa</text></g>

<g id="s-forecast" class="cd k" transform="translate(2037,1027)"><rect width="113" height="113"/><text x="10" y="31">Grants<tspan x="10" dy="28">Forecast</tspan></text><text class="au" x="10" y="101">Racheal Arewa</text></g>
<g id="s-pell" class="cd k" transform="translate(2150,1027)"><rect width="113" height="113"/><text x="10" y="31">Apply for<tspan x="10" dy="28">Pell Grants</tspan></text><text class="au" x="10" y="101">Racheal Arewa</text></g>
<g id="s-grants" class="cd k" transform="translate(2263,1027)"><rect width="113" height="113"/><text x="10" y="31">Grants</text><text class="au" x="10" y="101">Racheal Arewa</text></g>
<g id="s-applygrants" class="cd k" transform="translate(2150,1140)"><rect width="113" height="113"/><text x="10" y="31">Apply for<tspan x="10" dy="28">Grants</tspan></text><text class="au" x="10" y="101">Racheal Arewa</text></g>
<g id="s-eligibility" class="cd k" transform="translate(2263,1140)"><rect width="113" height="113"/><text x="10" y="31">Eligibility<tspan x="10" dy="28">for Grants</tspan></text><text class="au" x="10" y="101">Racheal Arewa</text></g>

<g id="s-subscribe" class="cd k" transform="translate(1571,1430)"><rect width="196" height="113"/><text x="10" y="31">Subscribe to E-mail<tspan x="10" dy="28">Updates</tspan></text><text class="au" x="10" y="101">Racheal Arewa</text></g>
<g id="s-homeroom" class="cd k" transform="translate(1767,1430)"><rect width="113" height="113"/><text x="10" y="31">Homer<tspan x="10" dy="28">oom Blog</tspan></text><text class="au" x="10" y="101">Racheal Arewa</text></g>
<g id="s-whatworks" class="cd k" transform="translate(1571,1543)"><rect width="196" height="113"/><text x="10" y="31">What Works<tspan x="10" dy="28">Clearinghouse</tspan></text><text class="au" x="10" y="101">Racheal Arewa</text></g>
<g id="s-press" class="cd k" transform="translate(1767,1543)"><rect width="113" height="113"/><text x="10" y="31">Press<tspan x="10" dy="28">Releases</tspan></text><text class="au" x="10" y="101">Racheal Arewa</text></g>

<g id="s-law-a" class="cd k" transform="translate(982,1843)"><rect width="113" height="113"/></g>
<g id="s-law-b" class="cd k" transform="translate(982,1956)"><rect width="113" height="113"/><text class="au" x="10" y="101">Racheal Arewa</text></g>
<g id="s-idea" class="cd k" transform="translate(1095,1843)"><rect width="114" height="113"/><text x="10" y="31">IDEA<tspan x="10" dy="28">Website</tspan></text><text class="au" x="10" y="101">Racheal Arewa</text></g>
<g id="s-civil" class="cd k" transform="translate(1095,1956)"><rect width="114" height="113"/><text x="10" y="31">Civil<tspan x="10" dy="28">Rights</tspan></text><text class="au" x="10" y="101">Racheal Arewa</text></g>
<g id="s-privacy" class="cd k" transform="translate(1209,1834)"><rect width="113" height="113"/><text x="10" y="31">Privacy<tspan x="10" dy="28">Program</tspan></text><text class="au" x="10" y="101">Racheal Arewa</text></g>
<g id="s-essa" class="cd k" transform="translate(1209,1947)"><rect width="196" height="123"/><text x="10" y="31">Every Student<tspan x="10" dy="28">Succeeds Act</tspan><tspan x="10" dy="28">(ESSA)</tspan></text><text class="au" x="10" y="111">Racheal Arewa</text></g>

<g id="s-defaulted" class="cd k" transform="translate(1543,1834)"><rect width="113" height="113"/><text x="10" y="31">Defaulted<tspan x="10" dy="28">Loans</tspan></text><text class="au" x="10" y="101">Racheal Arewa</text></g>
<g id="s-repaying" class="cd k" transform="translate(1656,1834)"><rect width="113" height="113"/><text x="10" y="31">Repaying<tspan x="10" dy="28">Loans</tspan></text><text class="au" x="10" y="101">Racheal Arewa</text></g>
<g id="s-servicers" class="cd k" transform="translate(1769,1834)"><rect width="113" height="113"/><text x="10" y="31">Loan<tspan x="10" dy="28">Servicers</tspan></text><text class="au" x="10" y="101">Racheal Arewa</text></g>
<g id="s-studentloans" class="cd k" transform="translate(1543,1947)"><rect width="113" height="113"/><text x="10" y="31">Student<tspan x="10" dy="28">Loans</tspan></text><text class="au" x="10" y="101">Racheal Arewa</text></g>
<g id="s-forgiveness" class="cd k" transform="translate(1656,1947)"><rect width="196" height="113"/><text x="10" y="31">Loan Forgiveness</text><text class="au" x="10" y="101">Racheal Arewa</text></g>

<g id="s-covid" class="cd k" transform="translate(2050,1730)"><rect width="113" height="113"/><text x="10" y="31">Covid<tspan x="10" dy="28">Relief Data</tspan></text><text class="au" x="10" y="101">Racheal Arewa</text></g>
<g id="s-data" class="cd k" transform="translate(2163,1730)"><rect width="113" height="113"/><text x="10" y="31">Data</text><text class="au" x="10" y="101">Racheal Arewa</text></g>
<g id="s-opendata" class="cd k" transform="translate(2276,1730)"><rect width="113" height="113"/><text x="10" y="31">Open Data<tspan x="10" dy="28">Platform</tspan></text><text class="au" x="10" y="101">Racheal Arewa</text></g>
<g id="s-nations" class="cd k" transform="translate(1997,1843)"><rect width="196" height="113"/><text x="10" y="31">Nation’s Report Cart</text><text class="au" x="10" y="101">Racheal Arewa</text></g>
<g id="s-postsec" class="cd k" transform="translate(2193,1843)"><rect width="196" height="113"/><text x="10" y="31">Postsecondary<tspan x="10" dy="28">Education Data</tspan></text><text class="au" x="10" y="101">Racheal Arewa</text></g>
<g id="s-budget" class="cd k" transform="translate(1967,1956)"><rect width="196" height="113"/><text x="10" y="31">Budget,<tspan x="10" dy="28">Performance</tspan></text><text class="au" x="10" y="101">Racheal Arewa</text></g>
<g id="s-edstats" class="cd k" transform="translate(2163,1956)"><rect width="113" height="113"/><text x="10" y="31">Education<tspan x="10" dy="28">Statistics</tspan></text><text class="au" x="10" y="101">Racheal Arewa</text></g>
<g id="s-eddata" class="cd k" transform="translate(2276,1956)"><rect width="113" height="113"/><text x="10" y="31">ED Data<tspan x="10" dy="28">Express</tspan></text><text class="au" x="10" y="101">Racheal Arewa</text></g>

<g id="s-b1" class="bd"><circle cx="1856" cy="2028" r="41"/><text x="1856" y="2039">1</text></g>
<g id="s-b2" class="bd"><circle cx="2096" cy="1166" r="41"/><text x="2096" y="1177">2</text></g>
<g id="s-b3" class="bd"><circle cx="1342" cy="1890" r="41"/><text x="1342" y="1901">3</text></g>
<g id="s-b4" class="bd"><circle cx="2013" cy="1804" r="41"/><text x="2013" y="1815">4</text></g>
<g id="s-b5" class="bd"><circle cx="1541" cy="1543" r="41"/><text x="1541" y="1554">5</text></g>
<g id="s-b6" class="bd"><circle cx="1585" cy="1250" r="41"/><text x="1585" y="1261">6</text></g>
<g id="s-b7" class="bd"><circle cx="1360" cy="1261" r="41"/><text x="1360" y="1272">7</text></g>
</g>

<!-- Unsorted Cards panel -->
<g id="unsorted">
<rect class="frame" x="1" y="1420" width="1052" height="578" style="stroke-width:10"/>
<g transform="translate(15,1435) scale(.6726)">
<g id="uo-contact" class="cd k" transform="translate(0,0)"><rect width="113" height="113"/><text x="10" y="31">Contact<tspan x="10" dy="28">Us</tspan></text><text class="au" x="10" y="101">Racheal Arewa</text></g>
<g id="uo-english" class="cd k" transform="translate(155.4,0)"><rect width="113" height="113"/><text x="10" y="31">English</text><text class="au" x="10" y="101">Racheal Arewa</text></g>
<g id="uo-laws" class="cd k" transform="translate(310.8,0)"><rect width="113" height="113"/><text x="10" y="31">Laws</text><text class="au" x="10" y="101">Racheal Arewa</text></g>
<g id="uo-data" class="cd k" transform="translate(466.2,0)"><rect width="113" height="113"/><text x="10" y="31">Data</text><text class="au" x="10" y="101">Racheal Arewa</text></g>
<g id="uo-about" class="cd k" transform="translate(621.6,0)"><rect width="113" height="113"/><text x="10" y="31">About Us</text><text class="au" x="10" y="101">Racheal Arewa</text></g>
<g id="uo-faqs" class="cd k" transform="translate(777,0)"><rect width="113" height="113"/><text x="10" y="31">FAQs</text><text class="au" x="10" y="101">Racheal Arewa</text></g>
<g id="uo-tagalog" class="cd k" transform="translate(932.4,0)"><rect width="113" height="113"/><text x="10" y="31">Tagalog</text><text class="au" x="10" y="101">Racheal Arewa</text></g>
<g id="uo-budget" class="cd k" transform="translate(1087.8,0)"><rect width="196" height="113"/><text x="10" y="31">Budget,<tspan x="10" dy="28">Performance</tspan></text><text class="au" x="10" y="101">Racheal Arewa</text></g>
<g id="uo-vietnamese" class="cd k" transform="translate(1326.2,0)"><rect width="196" height="113"/><text x="10" y="31">Vietnamese</text><text class="au" x="10" y="101">Racheal Arewa</text></g>

<g id="uo-repaying" class="cd k" transform="translate(0,143)"><rect width="113" height="113"/><text x="10" y="31">Repaying<tspan x="10" dy="28">Loans</tspan></text><text class="au" x="10" y="101">Racheal Arewa</text></g>
<g id="uo-spanish" class="cd k" transform="translate(155.4,143)"><rect width="113" height="113"/><text x="10" y="31">Spanish</text><text class="au" x="10" y="101">Racheal Arewa</text></g>
<g id="uo-edstats" class="cd k" transform="translate(310.8,143)"><rect width="113" height="113"/><text x="10" y="31">Education<tspan x="10" dy="28">Statistics</tspan></text><text class="au" x="10" y="101">Racheal Arewa</text></g>
<g id="uo-contact2" class="cd k" transform="translate(466.2,143)"><rect width="113" height="113"/><text x="10" y="31">Contact<tspan x="10" dy="28">Us</tspan></text><text class="au" x="10" y="101">Racheal Arewa</text></g>
<g id="uo-grants" class="cd k" transform="translate(621.6,143)"><rect width="113" height="113"/><text x="10" y="31">Grants</text><text class="au" x="10" y="101">Racheal Arewa</text></g>
<g id="uo-pell" class="cd k" transform="translate(777,143)"><rect width="113" height="113"/><text x="10" y="31">Apply for<tspan x="10" dy="28">Pell Grants</tspan></text><text class="au" x="10" y="101">Racheal Arewa</text></g>
<g id="uo-covid" class="cd k" transform="translate(932.4,143)"><rect width="113" height="113"/><text x="10" y="31">Covid<tspan x="10" dy="28">Relief Data</tspan></text><text class="au" x="10" y="101">Racheal Arewa</text></g>
<g id="uo-nations" class="cd k" transform="translate(1087.8,143)"><rect width="196" height="113"/><text x="10" y="31">Nation’s Report Cart</text><text class="au" x="10" y="101">Racheal Arewa</text></g>
<g id="uo-langassist" class="cd k" transform="translate(1326.2,143)"><rect width="196" height="113"/><text x="10" y="31">Language<tspan x="10" dy="28">Assistance</tspan></text><text class="au" x="10" y="101">Racheal Arewa</text></g>

<g id="uo-defaulted" class="cd k" transform="translate(0,283)"><rect width="113" height="113"/><text x="10" y="31">Defaulted<tspan x="10" dy="28">Loans</tspan></text><text class="au" x="10" y="101">Racheal Arewa</text></g>
<g id="uo-mandarin" class="cd k" transform="translate(155.4,283)"><rect width="113" height="113"/><text x="10" y="31">Mandarin</text><text class="au" x="10" y="101">Racheal Arewa</text></g>
<g id="uo-ferpa" class="cd k" transform="translate(310.8,283)"><rect width="113" height="113"/><text x="10" y="31">FERPA</text><text class="au" x="10" y="101">Racheal Arewa</text></g>
<g id="uo-edoffices" class="cd k" transform="translate(466.2,283)"><rect width="113" height="113"/><text x="10" y="31">ED Offices</text><text class="au" x="10" y="101">Racheal Arewa</text></g>
<g id="uo-studentloans" class="cd k" transform="translate(621.6,283)"><rect width="113" height="113"/><text x="10" y="31">Student<tspan x="10" dy="28">Loans</tspan></text><text class="au" x="10" y="101">Racheal Arewa</text></g>
<g id="uo-forecast" class="cd k" transform="translate(777,283)"><rect width="113" height="113"/><text x="10" y="31">Grants<tspan x="10" dy="28">Forecast</tspan></text><text class="au" x="10" y="101">Racheal Arewa</text></g>
<g id="uo-eligibility" class="cd k" transform="translate(932.4,283)"><rect width="113" height="113"/><text x="10" y="31">Eligibility<tspan x="10" dy="28">for Grants</tspan></text><text class="au" x="10" y="101">Racheal Arewa</text></g>
<g id="uo-postsec" class="cd k" transform="translate(1087.8,283)"><rect width="196" height="113"/><text x="10" y="31">Postsecondary<tspan x="10" dy="28">Education Data</tspan></text><text class="au" x="10" y="101">Racheal Arewa</text></g>
<g id="uo-forgiveness" class="cd k" transform="translate(1326.2,283)"><rect width="196" height="113"/><text x="10" y="31">Loan Forgiveness</text><text class="au" x="10" y="101">Racheal Arewa</text></g>

<g id="uo-civil" class="cd k" transform="translate(0,430)"><rect width="113" height="113"/><text x="10" y="31">Civil<tspan x="10" dy="28">Rights</tspan></text><text class="au" x="10" y="101">Racheal Arewa</text></g>
<g id="uo-eddata" class="cd k" transform="translate(155.4,430)"><rect width="113" height="113"/><text x="10" y="31">ED Data<tspan x="10" dy="28">Express</tspan></text><text class="au" x="10" y="101">Racheal Arewa</text></g>
<g id="uo-jobs" class="cd k" transform="translate(310.8,430)"><rect width="113" height="113"/><text x="10" y="31">Jobs</text><text class="au" x="10" y="101">Racheal Arewa</text></g>
<g id="uo-laws2" class="cd k" transform="translate(466.2,430)"><rect width="113" height="113"/><text x="10" y="31">Laws</text><text class="au" x="10" y="101">Racheal Arewa</text></g>
<g id="uo-applygrants" class="cd k" transform="translate(621.6,430)"><rect width="113" height="113"/><text x="10" y="31">Apply for<tspan x="10" dy="28">Grants</tspan></text><text class="au" x="10" y="101">Racheal Arewa</text></g>
<g id="uo-russian" class="cd k" transform="translate(777,430)"><rect width="113" height="113"/><text x="10" y="31">Russian</text><text class="au" x="10" y="101">Racheal Arewa</text></g>
<g id="uo-homeroom" class="cd k" transform="translate(932.4,430)"><rect width="113" height="113"/><text x="10" y="31">Homer<tspan x="10" dy="28">oom Blog</tspan></text><text class="au" x="10" y="101">Racheal Arewa</text></g>
<g id="uo-essa" class="cd k" transform="translate(1087.8,425)"><rect width="196" height="123"/><text x="10" y="31">Every Student<tspan x="10" dy="28">Succeeds Act</tspan><tspan x="10" dy="28">(ESSA)</tspan></text><text class="au" x="10" y="111">Racheal Arewa</text></g>
<g id="uo-recursos" class="cd k" transform="translate(1326.2,430)"><rect width="196" height="113"/><text x="10" y="31">Recursos en<tspan x="10" dy="28">español</tspan></text><text class="au" x="10" y="101">Racheal Arewa</text></g>

<g id="uo-servicers" class="cd k" transform="translate(0,581)"><rect width="113" height="113"/><text x="10" y="31">Loan<tspan x="10" dy="28">Servicers</tspan></text><text class="au" x="10" y="101">Racheal Arewa</text></g>
<g id="uo-skip" class="cd k" transform="translate(155.4,575)"><rect width="113" height="123"/><text x="10" y="31">Skip to<tspan x="10" dy="28">main</tspan><tspan x="10" dy="28">content</tspan></text><text class="au" x="10" y="111">Racheal Arewa</text></g>
<g id="uo-idea" class="cd k" transform="translate(310.8,581)"><rect width="113" height="113"/><text x="10" y="31">IDEA<tspan x="10" dy="28">Website</tspan></text><text class="au" x="10" y="101">Racheal Arewa</text></g>
<g id="uo-privacy" class="cd k" transform="translate(466.2,581)"><rect width="113" height="113"/><text x="10" y="31">Privacy<tspan x="10" dy="28">Program</tspan></text><text class="au" x="10" y="101">Racheal Arewa</text></g>
<g id="uo-press" class="cd k" transform="translate(621.6,581)"><rect width="113" height="113"/><text x="10" y="31">Press<tspan x="10" dy="28">Releases</tspan></text><text class="au" x="10" y="101">Racheal Arewa</text></g>
<g id="uo-korean" class="cd k" transform="translate(777,581)"><rect width="113" height="113"/><text x="10" y="31">Korean</text><text class="au" x="10" y="101">Racheal Arewa</text></g>
<g id="uo-opendata" class="cd k" transform="translate(932.4,581)"><rect width="113" height="113"/><text x="10" y="31">Open Data<tspan x="10" dy="28">Platform</tspan></text><text class="au" x="10" y="101">Racheal Arewa</text></g>
<g id="uo-whatworks" class="cd k" transform="translate(1087.8,581)"><rect width="196" height="113"/><text x="10" y="31">What Works<tspan x="10" dy="28">Clearinghouse</tspan></text><text class="au" x="10" y="101">Racheal Arewa</text></g>
<g id="uo-subscribe" class="cd k" transform="translate(1326.2,581)"><rect width="196" height="113"/><text x="10" y="31">Subscribe to E-mail<tspan x="10" dy="28">Updates</tspan></text><text class="au" x="10" y="101">Racheal Arewa</text></g>
<g id="uo-title"><text class="big" x="1522" y="794" text-anchor="end" textLength="414" lengthAdjust="spacingAndGlyphs">Unsorted Cards</text></g>
</g>
</g>
</svg>
